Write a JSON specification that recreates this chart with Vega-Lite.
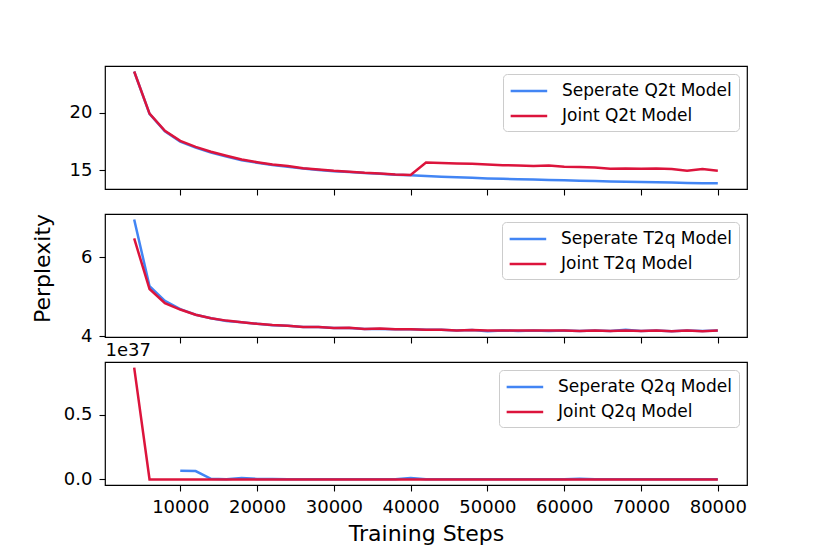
{
  "$schema": "https://vega.github.io/schema/vega-lite/v6.json",
  "autosize": {"type": "pad"},
  "padding": {"left": 30, "top": 65, "right": 10, "bottom": 5},
  "background": "white",
  "spacing": 25,
  "bounds": "flush",
  "config": {
    "font": "DejaVu Sans",
    "view": {"stroke": "black", "strokeWidth": 1.2},
    "axis": {
      "grid": false, "domain": false, "tickColor": "black", "tickSize": 6, "tickWidth": 1.1,
      "labelColor": "black", "labelFontSize": 18, "labelPadding": 7,
      "titleColor": "black", "titleFontWeight": "normal"
    },
    "legend": {
      "orient": "top-right", "offset": 8, "padding": 7, "title": null,
      "fillColor": "rgba(255,255,255,0.8)", "strokeColor": "#cccccc", "cornerRadius": 4,
      "symbolType": "M-1.1,0H3.2", "symbolSize": 289, "symbolStrokeWidth": 2.5,
      "labelOffset": 32, "rowPadding": 7, "labelFontSize": 17, "labelColor": "black", "labelLimit": 300
    },
    "line": {"strokeWidth": 2.5}
  },
  "datasets": {
    "q2t": [
      {"step": 4000, "Seperate Q2t Model": 23.56, "Joint Q2t Model": 23.56},
      {"step": 6000, "Seperate Q2t Model": 19.88, "Joint Q2t Model": 19.91},
      {"step": 8000, "Seperate Q2t Model": 18.36, "Joint Q2t Model": 18.41},
      {"step": 10000, "Seperate Q2t Model": 17.48, "Joint Q2t Model": 17.54},
      {"step": 12000, "Seperate Q2t Model": 16.95, "Joint Q2t Model": 17.02},
      {"step": 14000, "Seperate Q2t Model": 16.53, "Joint Q2t Model": 16.59},
      {"step": 16000, "Seperate Q2t Model": 16.18, "Joint Q2t Model": 16.24},
      {"step": 18000, "Seperate Q2t Model": 15.86, "Joint Q2t Model": 15.92},
      {"step": 20000, "Seperate Q2t Model": 15.64, "Joint Q2t Model": 15.69},
      {"step": 22000, "Seperate Q2t Model": 15.44, "Joint Q2t Model": 15.49},
      {"step": 24000, "Seperate Q2t Model": 15.3, "Joint Q2t Model": 15.35},
      {"step": 26000, "Seperate Q2t Model": 15.13, "Joint Q2t Model": 15.17},
      {"step": 28000, "Seperate Q2t Model": 15.02, "Joint Q2t Model": 15.06},
      {"step": 30000, "Seperate Q2t Model": 14.91, "Joint Q2t Model": 14.94},
      {"step": 32000, "Seperate Q2t Model": 14.83, "Joint Q2t Model": 14.86},
      {"step": 34000, "Seperate Q2t Model": 14.74, "Joint Q2t Model": 14.77},
      {"step": 36000, "Seperate Q2t Model": 14.68, "Joint Q2t Model": 14.71},
      {"step": 38000, "Seperate Q2t Model": 14.6, "Joint Q2t Model": 14.62},
      {"step": 40000, "Seperate Q2t Model": 14.55, "Joint Q2t Model": 14.57},
      {"step": 42000, "Seperate Q2t Model": 14.48, "Joint Q2t Model": 15.66},
      {"step": 44000, "Seperate Q2t Model": 14.43, "Joint Q2t Model": 15.61},
      {"step": 46000, "Seperate Q2t Model": 14.38, "Joint Q2t Model": 15.58},
      {"step": 48000, "Seperate Q2t Model": 14.33, "Joint Q2t Model": 15.55},
      {"step": 50000, "Seperate Q2t Model": 14.28, "Joint Q2t Model": 15.49},
      {"step": 52000, "Seperate Q2t Model": 14.24, "Joint Q2t Model": 15.43},
      {"step": 54000, "Seperate Q2t Model": 14.21, "Joint Q2t Model": 15.4},
      {"step": 56000, "Seperate Q2t Model": 14.18, "Joint Q2t Model": 15.35},
      {"step": 58000, "Seperate Q2t Model": 14.15, "Joint Q2t Model": 15.4},
      {"step": 60000, "Seperate Q2t Model": 14.11, "Joint Q2t Model": 15.29},
      {"step": 62000, "Seperate Q2t Model": 14.08, "Joint Q2t Model": 15.26},
      {"step": 64000, "Seperate Q2t Model": 14.05, "Joint Q2t Model": 15.23},
      {"step": 66000, "Seperate Q2t Model": 14.02, "Joint Q2t Model": 15.12},
      {"step": 68000, "Seperate Q2t Model": 13.99, "Joint Q2t Model": 15.14},
      {"step": 70000, "Seperate Q2t Model": 13.97, "Joint Q2t Model": 15.12},
      {"step": 72000, "Seperate Q2t Model": 13.95, "Joint Q2t Model": 15.14},
      {"step": 74000, "Seperate Q2t Model": 13.92, "Joint Q2t Model": 15.09},
      {"step": 76000, "Seperate Q2t Model": 13.89, "Joint Q2t Model": 14.94},
      {"step": 78000, "Seperate Q2t Model": 13.87, "Joint Q2t Model": 15.09},
      {"step": 80000, "Seperate Q2t Model": 13.85, "Joint Q2t Model": 14.94}
    ],
    "t2q": [
      {"step": 4000, "Seperate T2q Model": 6.95, "Joint T2q Model": 6.47},
      {"step": 6000, "Seperate T2q Model": 5.26, "Joint T2q Model": 5.19},
      {"step": 8000, "Seperate T2q Model": 4.89, "Joint T2q Model": 4.83},
      {"step": 10000, "Seperate T2q Model": 4.68, "Joint T2q Model": 4.67},
      {"step": 12000, "Seperate T2q Model": 4.54, "Joint T2q Model": 4.54},
      {"step": 14000, "Seperate T2q Model": 4.45, "Joint T2q Model": 4.45},
      {"step": 16000, "Seperate T2q Model": 4.38, "Joint T2q Model": 4.39},
      {"step": 18000, "Seperate T2q Model": 4.35, "Joint T2q Model": 4.35},
      {"step": 20000, "Seperate T2q Model": 4.31, "Joint T2q Model": 4.31},
      {"step": 22000, "Seperate T2q Model": 4.27, "Joint T2q Model": 4.28},
      {"step": 24000, "Seperate T2q Model": 4.26, "Joint T2q Model": 4.26},
      {"step": 26000, "Seperate T2q Model": 4.23, "Joint T2q Model": 4.23},
      {"step": 28000, "Seperate T2q Model": 4.23, "Joint T2q Model": 4.23},
      {"step": 30000, "Seperate T2q Model": 4.2, "Joint T2q Model": 4.2},
      {"step": 32000, "Seperate T2q Model": 4.2, "Joint T2q Model": 4.21},
      {"step": 34000, "Seperate T2q Model": 4.18, "Joint T2q Model": 4.18},
      {"step": 36000, "Seperate T2q Model": 4.18, "Joint T2q Model": 4.19},
      {"step": 38000, "Seperate T2q Model": 4.17, "Joint T2q Model": 4.17},
      {"step": 40000, "Seperate T2q Model": 4.17, "Joint T2q Model": 4.17},
      {"step": 42000, "Seperate T2q Model": 4.16, "Joint T2q Model": 4.16},
      {"step": 44000, "Seperate T2q Model": 4.16, "Joint T2q Model": 4.16},
      {"step": 46000, "Seperate T2q Model": 4.14, "Joint T2q Model": 4.14},
      {"step": 48000, "Seperate T2q Model": 4.15, "Joint T2q Model": 4.15},
      {"step": 50000, "Seperate T2q Model": 4.12, "Joint T2q Model": 4.14},
      {"step": 52000, "Seperate T2q Model": 4.14, "Joint T2q Model": 4.14},
      {"step": 54000, "Seperate T2q Model": 4.13, "Joint T2q Model": 4.14},
      {"step": 56000, "Seperate T2q Model": 4.14, "Joint T2q Model": 4.14},
      {"step": 58000, "Seperate T2q Model": 4.13, "Joint T2q Model": 4.14},
      {"step": 60000, "Seperate T2q Model": 4.14, "Joint T2q Model": 4.14},
      {"step": 62000, "Seperate T2q Model": 4.13, "Joint T2q Model": 4.13},
      {"step": 64000, "Seperate T2q Model": 4.14, "Joint T2q Model": 4.14},
      {"step": 66000, "Seperate T2q Model": 4.13, "Joint T2q Model": 4.13},
      {"step": 68000, "Seperate T2q Model": 4.16, "Joint T2q Model": 4.14},
      {"step": 70000, "Seperate T2q Model": 4.13, "Joint T2q Model": 4.13},
      {"step": 72000, "Seperate T2q Model": 4.14, "Joint T2q Model": 4.14},
      {"step": 74000, "Seperate T2q Model": 4.12, "Joint T2q Model": 4.12},
      {"step": 76000, "Seperate T2q Model": 4.14, "Joint T2q Model": 4.14},
      {"step": 78000, "Seperate T2q Model": 4.13, "Joint T2q Model": 4.12},
      {"step": 80000, "Seperate T2q Model": 4.14, "Joint T2q Model": 4.14}
    ],
    "q2q": [
      {"step": 4000, "Seperate Q2q Model": null, "Joint Q2q Model": 8.62e36},
      {"step": 6000, "Seperate Q2q Model": null, "Joint Q2q Model": 0},
      {"step": 8000, "Seperate Q2q Model": null, "Joint Q2q Model": 0},
      {"step": 10000, "Seperate Q2q Model": 6.7e35, "Joint Q2q Model": 0},
      {"step": 12000, "Seperate Q2q Model": 6.4e35, "Joint Q2q Model": 0},
      {"step": 14000, "Seperate Q2q Model": 5e34, "Joint Q2q Model": 0},
      {"step": 16000, "Seperate Q2q Model": 1e34, "Joint Q2q Model": 0},
      {"step": 18000, "Seperate Q2q Model": 1e35, "Joint Q2q Model": 0},
      {"step": 20000, "Seperate Q2q Model": 4e34, "Joint Q2q Model": 0},
      {"step": 22000, "Seperate Q2q Model": 3e34, "Joint Q2q Model": 0},
      {"step": 24000, "Seperate Q2q Model": 1e34, "Joint Q2q Model": 0},
      {"step": 26000, "Seperate Q2q Model": 1e34, "Joint Q2q Model": 0},
      {"step": 28000, "Seperate Q2q Model": 1e34, "Joint Q2q Model": 0},
      {"step": 30000, "Seperate Q2q Model": 1e34, "Joint Q2q Model": 0},
      {"step": 32000, "Seperate Q2q Model": 1e34, "Joint Q2q Model": 0},
      {"step": 34000, "Seperate Q2q Model": 1e34, "Joint Q2q Model": 0},
      {"step": 36000, "Seperate Q2q Model": 1e34, "Joint Q2q Model": 0},
      {"step": 38000, "Seperate Q2q Model": 2e34, "Joint Q2q Model": 0},
      {"step": 40000, "Seperate Q2q Model": 1e35, "Joint Q2q Model": 0},
      {"step": 42000, "Seperate Q2q Model": 2e34, "Joint Q2q Model": 0},
      {"step": 44000, "Seperate Q2q Model": 1e34, "Joint Q2q Model": 0},
      {"step": 46000, "Seperate Q2q Model": 1e34, "Joint Q2q Model": 0},
      {"step": 48000, "Seperate Q2q Model": 1e34, "Joint Q2q Model": 0},
      {"step": 50000, "Seperate Q2q Model": 1e34, "Joint Q2q Model": 0},
      {"step": 52000, "Seperate Q2q Model": 1e34, "Joint Q2q Model": 0},
      {"step": 54000, "Seperate Q2q Model": 1e34, "Joint Q2q Model": 0},
      {"step": 56000, "Seperate Q2q Model": 1e34, "Joint Q2q Model": 0},
      {"step": 58000, "Seperate Q2q Model": 1e34, "Joint Q2q Model": 0},
      {"step": 60000, "Seperate Q2q Model": 2e34, "Joint Q2q Model": 0},
      {"step": 62000, "Seperate Q2q Model": 5e34, "Joint Q2q Model": 0},
      {"step": 64000, "Seperate Q2q Model": 1e34, "Joint Q2q Model": 0},
      {"step": 66000, "Seperate Q2q Model": 1e34, "Joint Q2q Model": 0},
      {"step": 68000, "Seperate Q2q Model": 1e34, "Joint Q2q Model": 0},
      {"step": 70000, "Seperate Q2q Model": 1e34, "Joint Q2q Model": 0},
      {"step": 72000, "Seperate Q2q Model": 1e34, "Joint Q2q Model": 0},
      {"step": 74000, "Seperate Q2q Model": 1e34, "Joint Q2q Model": 0},
      {"step": 76000, "Seperate Q2q Model": 1e34, "Joint Q2q Model": 0},
      {"step": 78000, "Seperate Q2q Model": 1e34, "Joint Q2q Model": 0},
      {"step": 80000, "Seperate Q2q Model": 1e34, "Joint Q2q Model": 0}
    ]
  },
  "resolve": {"scale": {"color": "independent", "y": "independent"}},
  "vconcat": [
    {
      "width": 642,
      "height": 123,
      "data": {"name": "q2t"},
      "transform": [{"fold": ["Seperate Q2t Model", "Joint Q2t Model"], "as": ["model", "perplexity"]}],
      "mark": {"type": "line"},
      "encoding": {
        "x": {"field": "step", "type": "quantitative", "scale": {"domain": [200, 83800], "nice": false, "zero": false},
              "axis": {"values": [10000, 20000, 30000, 40000, 50000, 60000, 70000, 80000], "labels": false, "title": null}},
        "y": {"field": "perplexity", "type": "quantitative", "scale": {"domain": [13.36, 24.04], "nice": false, "zero": false},
              "axis": {"values": [15, 20], "title": null}},
        "color": {"field": "model", "type": "nominal",
                  "scale": {"domain": ["Seperate Q2t Model", "Joint Q2t Model"], "range": ["#4285f4", "#dc143c"]}}
      }
    },
    {
      "width": 642,
      "height": 123,
      "data": {"name": "t2q"},
      "transform": [{"fold": ["Seperate T2q Model", "Joint T2q Model"], "as": ["model", "perplexity"]}],
      "mark": {"type": "line"},
      "encoding": {
        "x": {"field": "step", "type": "quantitative", "scale": {"domain": [200, 83800], "nice": false, "zero": false},
              "axis": {"values": [10000, 20000, 30000, 40000, 50000, 60000, 70000, 80000], "labels": false, "title": null}},
        "y": {"field": "perplexity", "type": "quantitative", "scale": {"domain": [3.975, 7.09], "nice": false, "zero": false},
              "axis": {"values": [4, 6], "title": "Perplexity", "titleFontSize": 22, "titleAngle": -90,
                       "titleX": -56, "titleY": 54, "titleAlign": "center", "titleBaseline": "alphabetic"}},
        "color": {"field": "model", "type": "nominal",
                  "scale": {"domain": ["Seperate T2q Model", "Joint T2q Model"], "range": ["#4285f4", "#dc143c"]}}
      }
    },
    {
      "width": 642,
      "height": 123,
      "data": {"name": "q2q"},
      "transform": [{"fold": ["Seperate Q2q Model", "Joint Q2q Model"], "as": ["model", "perplexity"]}],
      "mark": {"type": "line"},
      "encoding": {
        "x": {"field": "step", "type": "quantitative", "scale": {"domain": [200, 83800], "nice": false, "zero": false},
              "axis": {"values": [10000, 20000, 30000, 40000, 50000, 60000, 70000, 80000], "format": "d",
                       "title": "Training Steps", "titleFontSize": 22, "titlePadding": 7}},
        "y": {"field": "perplexity", "type": "quantitative", "scale": {"domain": [-4.31e35, 9.05e36], "nice": false, "zero": false},
              "axis": {"values": [0, 5e36], "labelExpr": "format(datum.value / 1e37, '.1f')",
                       "title": "1e37", "titleFontSize": 18, "titleAngle": 0, "titleX": 0, "titleY": -3,
                       "titleAlign": "left", "titleBaseline": "bottom"}},
        "color": {"field": "model", "type": "nominal",
                  "scale": {"domain": ["Seperate Q2q Model", "Joint Q2q Model"], "range": ["#4285f4", "#dc143c"]}}
      }
    }
  ]
}
